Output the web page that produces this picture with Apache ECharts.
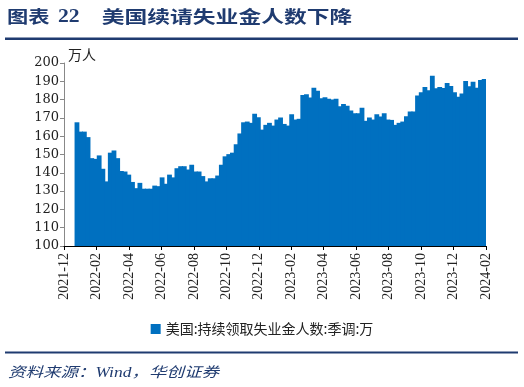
<!DOCTYPE html>
<html><head><meta charset="utf-8">
<script src="https://cdn.jsdelivr.net/npm/echarts@6/dist/echarts.min.js"></script>
<style>html,body{margin:0;padding:0;background:#fff}#c{width:524px;height:387px}</style>
</head><body><div id="c"></div>
<script>
// weekly continuing claims (10k persons)
const firstWeekUTC = Date.UTC(2021, 11, 4);
const padWeeks = 3;
const claims2022 = [167.6, 162.5, 162.5, 159.5, 148, 147.6, 149.5, 142.2, 135.3, 151, 152.2, 148, 141, 140.7, 139, 135, 131.6, 134.5, 131.3, 131.3, 131.3, 133, 132.7, 137.5, 134, 139, 137.5, 142.5, 143.6, 143.6, 141.8, 144.4, 140.7, 140.7, 138.2, 135.3, 137, 137, 138.5, 144.4, 149, 150.2, 151, 155.6, 161.5, 167.6, 168, 167.3, 172.2, 170.4];
const claims2023 = [163.6, 166.2, 167.3, 165.8, 169.1, 170.2, 166.7, 165.8, 172, 169.1, 169.5, 182.5, 182.9, 181.1, 186.5, 184.9, 180.7, 181.3, 180.4, 180, 180.4, 176.4, 177.6, 176.7, 174, 172.5, 172.5, 175.6, 168.4, 170.2, 169.1, 172, 170.7, 172.5, 169.1, 168.9, 166.2, 167.3, 168, 170.9, 173.5, 173.5, 182.2, 184, 186.9, 185.1, 193.1, 186.2, 186.9, 186.4, 189.1, 187.5, 184, 181.5, 183.3, 190.2, 187.3, 189.8, 186.5, 190.7, 191.3];
const monthLabels = ['2021-12','2022-01','2022-02','2022-03','2022-04','2022-05','2022-06','2022-07','2022-08','2022-09','2022-10','2022-11','2022-12','2023-01','2023-02','2023-03','2023-04','2023-05','2023-06','2023-07','2023-08','2023-09','2023-10','2023-11','2023-12','2024-01','2024-02'];
const seriesName = '美国:持续领取失业金人数:季调:万';
const yMin = 100, yMax = 200, yStep = 10;

const values = [];
for (let i = 0; i < padWeeks; i++) values.push(null);
claims2022.concat(claims2023).forEach(v => values.push(v));
const weeks = values.map((_, i) => {
  const d = new Date(firstWeekUTC + i * 7 * 86400000);
  return d.toISOString().slice(0, 10);
});

const navy = '#1F3B70';
const chart = echarts.init(document.getElementById('c'), null, {renderer: 'canvas'});
chart.setOption({
  animation: false,
  backgroundColor: '#fff',
  grid: {left: 64, right: 38, top: 63, bottom: 141, containLabel: false},
  legend: {
    data: [seriesName], left: 'center', top: 317,
    icon: 'rect', itemWidth: 10, itemHeight: 10, itemGap: 4,
    textStyle: {fontFamily: '"Noto Sans CJK SC"', fontSize: 14, color: '#222'}
  },
  xAxis: [
    {type: 'category', data: weeks, position: 'bottom', boundaryGap: true,
     axisLine: {show: false}, axisTick: {show: false}, axisLabel: {show: false}, splitLine: {show: false}},
    {type: 'category', data: monthLabels, position: 'bottom', boundaryGap: false, z: 5,
     axisLine: {show: true, lineStyle: {color: '#000', width: 1}},
     axisTick: {show: true, interval: 1, length: 4, lineStyle: {color: '#000'}},
     axisLabel: {interval: 1, rotate: 90, margin: 7, color: '#222',
       fontFamily: '"Liberation Serif"', fontSize: 14},
     splitLine: {show: false}}
  ],
  yAxis: {
    type: 'value', min: yMin, max: yMax, interval: yStep,
    name: '万人', nameLocation: 'end', nameGap: 1,
    nameTextStyle: {align: 'left', verticalAlign: 'bottom', padding: [0, 0, 0, 4],
      fontFamily: '"Noto Sans CJK SC"', fontSize: 14, color: '#222'},
    axisLine: {show: true, lineStyle: {color: '#888'}},
    axisTick: {show: true, length: 4, lineStyle: {color: '#888'}},
    axisLabel: {margin: 5, color: '#222', fontFamily: '"DejaVu Serif"', fontSize: 13},
    splitLine: {show: false}
  },
  series: [{
    name: seriesName, type: 'bar', xAxisIndex: 0, data: values,
    barWidth: '130%',
    itemStyle: {color: '#0070C0', borderWidth: 0}
  }],
  graphic: [
    {type: 'text', x: 7, y: 17, scaleX: 1.25, style: {text: '图表', x: 0, y: 0, fill: navy,
      font: 'bold 17px "Noto Sans CJK SC"', textVerticalAlign: 'middle'}},
    {type: 'text', x: 58, y: 17, scaleX: 1.2, style: {text: '22', x: 0, y: 0, fill: navy,
      font: 'bold 18px "Liberation Serif"', textVerticalAlign: 'middle'}},
    {type: 'text', x: 101.7, y: 17, scaleX: 1.34, style: {text: '美国续请失业金人数下降', x: 0, y: 0, fill: navy,
      font: 'bold 17px "Noto Sans CJK SC"', textVerticalAlign: 'middle'}},
    {type: 'rect', shape: {x: 5, y: 37.5, width: 513, height: 2.5}, style: {fill: navy}},
    {type: 'rect', shape: {x: 5, y: 351.5, width: 513, height: 2}, style: {fill: navy}},
    {type: 'text', x: 8, y: 373, scaleX: 1.25, style: {text: '资料来源：Wind，华创证券', x: 0, y: 0, fill: navy,
      font: 'italic 14px "Liberation Serif","Noto Sans CJK SC"', textVerticalAlign: 'middle'}}
  ]
});
</script>
</body></html>
